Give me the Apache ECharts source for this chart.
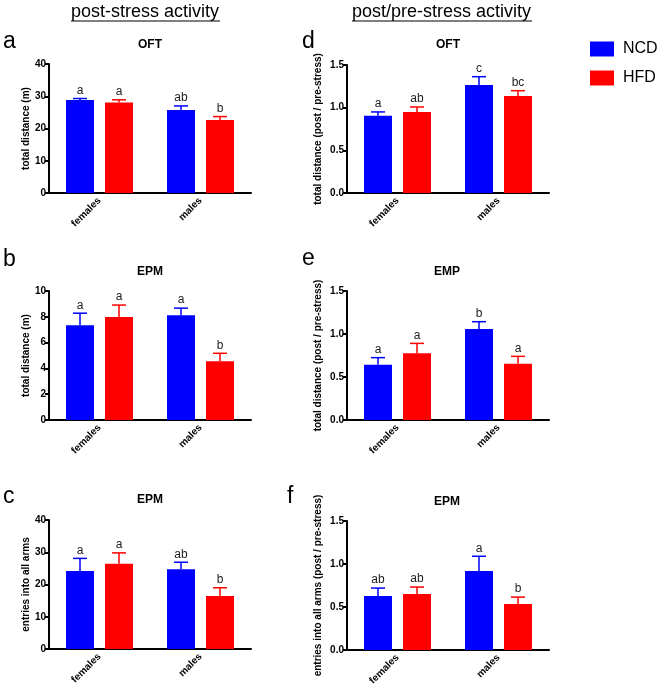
<!DOCTYPE html>
<html>
<head>
<meta charset="utf-8">
<script src="https://cdn.jsdelivr.net/npm/echarts@6/dist/echarts.min.js"></script>
<style>html,body{margin:0;padding:0;background:#fff}#c{width:660px;height:689px}</style>
</head>
<body>
<div id="c"></div>
<script>
const categories = ['females', 'males'];
const seriesNames = ['NCD', 'HFD'];

// panel a: OFT post-stress total distance (m)
const aNCD = [28.8, 25.7], aNCDerr = [0.5, 1.3], aNCDlet = ['a', 'ab'];
const aHFD = [28.1, 22.6], aHFDerr = [0.8, 1.1], aHFDlet = ['a', 'b'];
// panel b: EPM post-stress total distance (m)
const bNCD = [7.35, 8.12], bNCDerr = [0.93, 0.55], bNCDlet = ['a', 'a'];
const bHFD = [7.98, 4.55], bHFDerr = [0.93, 0.62], bHFDlet = ['a', 'b'];
// panel c: EPM post-stress entries into all arms
const cNCD = [24.2, 24.7], cNCDerr = [3.9, 2.2], cNCDlet = ['a', 'ab'];
const cHFD = [26.4, 16.4], cHFDerr = [3.4, 2.6], cHFDlet = ['a', 'b'];
// panel d: OFT post/pre total distance
const dNCD = [0.905, 1.265], dNCDerr = [0.045, 0.098], dNCDlet = ['a', 'c'];
const dHFD = [0.948, 1.136], dHFDerr = [0.06, 0.063], dHFDlet = ['ab', 'bc'];
// panel e: EMP post/pre total distance
const eNCD = [0.643, 1.058], eNCDerr = [0.082, 0.085], eNCDlet = ['a', 'b'];
const eHFD = [0.775, 0.655], eHFDerr = [0.116, 0.085], eHFDlet = ['a', 'a'];
// panel f: EPM post/pre entries into all arms
const fNCD = [0.627, 0.919], fNCDerr = [0.093, 0.171], fNCDlet = ['ab', 'a'];
const fHFD = [0.65, 0.534], fHFDerr = [0.082, 0.081], fHFDlet = ['ab', 'b'];

const ticksAC = [0, 10, 20, 30, 40];
const ticksB = [0, 2, 4, 6, 8, 10];
const ticksDEF = ['0.0', '0.5', '1.0', '1.5'];

const panelTitles = ['OFT', 'EPM', 'EPM', 'OFT', 'EMP', 'EPM'];
const panelLetters = ['a', 'b', 'c', 'd', 'e', 'f'];
const yNames = ['total distance (m)', 'total distance (m)', 'entries into all arms',
  'total distance (post / pre-stress)', 'total distance (post / pre-stress)',
  'entries into all arms (post / pre-stress)'];
const sectionTitles = ['post-stress activity', 'post/pre-stress activity'];

const FONT = '"Liberation Sans", Arial, Helvetica, sans-serif';
const BLUE = '#0000ff', RED = '#ff0000';

const panels = [
  {ncd: aNCD, ne: aNCDerr, nl: aNCDlet, hfd: aHFD, he: aHFDerr, hl: aHFDlet, max: ticksAC[ticksAC.length-1], interval: ticksAC[1]-ticksAC[0], dec: 0},
  {ncd: bNCD, ne: bNCDerr, nl: bNCDlet, hfd: bHFD, he: bHFDerr, hl: bHFDlet, max: ticksB[ticksB.length-1], interval: ticksB[1]-ticksB[0], dec: 0},
  {ncd: cNCD, ne: cNCDerr, nl: cNCDlet, hfd: cHFD, he: cHFDerr, hl: cHFDlet, max: ticksAC[ticksAC.length-1], interval: ticksAC[1]-ticksAC[0], dec: 0},
  {ncd: dNCD, ne: dNCDerr, nl: dNCDlet, hfd: dHFD, he: dHFDerr, hl: dHFDlet, max: +ticksDEF[3], interval: +ticksDEF[1], dec: 1},
  {ncd: eNCD, ne: eNCDerr, nl: eNCDlet, hfd: eHFD, he: eHFDerr, hl: eHFDlet, max: +ticksDEF[3], interval: +ticksDEF[1], dec: 1},
  {ncd: fNCD, ne: fNCDerr, nl: fNCDlet, hfd: fHFD, he: fHFDerr, hl: fHFDlet, max: +ticksDEF[3], interval: +ticksDEF[1], dec: 1}
];

const grids = [
  {left: 49, top: 64, width: 202, height: 129},
  {left: 49, top: 291, width: 202, height: 129},
  {left: 49, top: 520, width: 202, height: 129},
  {left: 347, top: 65, width: 202, height: 128},
  {left: 347, top: 291, width: 202, height: 129},
  {left: 347, top: 521, width: 202, height: 129}
];

const BAR_W = 28, BAR_GAP = 11;
const OFF = (BAR_W + BAR_GAP) / 2;

function errSeries(gi, vals, errs, lets, color, off) {
  return {
    type: 'custom', xAxisIndex: gi, yAxisIndex: gi, z: 5,
    data: vals.map((v, i) => [i, v, errs[i]]),
    renderItem: function (params, api) {
      const p0 = api.coord([api.value(0), api.value(1)]);
      const p1 = api.coord([api.value(0), api.value(1) + api.value(2)]);
      const cx = p0[0] + off;
      return {
        type: 'group',
        children: [
          {type: 'line', shape: {x1: cx, y1: p0[1], x2: cx, y2: p1[1]}, style: {stroke: color, lineWidth: 1.5}},
          {type: 'line', shape: {x1: cx - 7, y1: p1[1], x2: cx + 7, y2: p1[1]}, style: {stroke: color, lineWidth: 1.5}},
          {type: 'text', x: cx, y: p1[1] - 2, style: {text: lets[params.dataIndex], fill: '#222', font: '12px ' + FONT, textAlign: 'center', textVerticalAlign: 'bottom'}}
        ]
      };
    }
  };
}

const xAxes = [], yAxes = [], series = [];
panels.forEach((p, gi) => {
  xAxes.push({
    type: 'category', gridIndex: gi, data: categories,
    axisLine: {lineStyle: {color: '#000', width: 2}},
    axisTick: {alignWithLabel: true, length: 4, lineStyle: {color: '#000', width: 2}},
    axisLabel: {rotate: 45, color: '#000', fontFamily: FONT, fontWeight: 'bold', fontSize: 10, margin: 6}
  });
  yAxes.push({
    type: 'value', gridIndex: gi, min: 0, max: p.max, interval: p.interval,
    axisLine: {show: true, lineStyle: {color: '#000', width: 2}},
    axisTick: {show: true, length: 4, lineStyle: {color: '#000', width: 2}},
    splitLine: {show: false},
    axisLabel: {color: '#000', fontFamily: FONT, fontWeight: 'bold', fontSize: 10, margin: 3,
      formatter: v => v.toFixed(p.dec)}
  });
  series.push({type: 'bar', name: seriesNames[0], xAxisIndex: gi, yAxisIndex: gi, data: p.ncd,
    barWidth: BAR_W, barGap: (BAR_GAP / BAR_W * 100) + '%', itemStyle: {color: BLUE}});
  series.push({type: 'bar', name: seriesNames[1], xAxisIndex: gi, yAxisIndex: gi, data: p.hfd,
    barWidth: BAR_W, barGap: (BAR_GAP / BAR_W * 100) + '%', itemStyle: {color: RED}});
  series.push(errSeries(gi, p.ncd, p.ne, p.nl, BLUE, -OFF));
  series.push(errSeries(gi, p.hfd, p.he, p.hl, RED, OFF));
});

// text decorations
const letterPos = [[3, 48], [3, 266], [3, 503], [302, 48], [302, 265], [287, 503]];
const titlePos = [[150, 48], [150, 275], [150, 503], [448, 48], [447, 275], [447, 505]];
const graphic = [];
panelLetters.forEach((l, i) => {
  graphic.push({type: 'text', x: letterPos[i][0], y: letterPos[i][1] + 5,
    style: {text: l, font: '23px ' + FONT, fill: '#000', textAlign: 'left', textVerticalAlign: 'bottom'}});
});
panelTitles.forEach((t, i) => {
  graphic.push({type: 'text', x: titlePos[i][0], y: titlePos[i][1] + 3,
    style: {text: t, font: 'bold 12px ' + FONT, fill: '#000', textAlign: 'center', textVerticalAlign: 'bottom'}});
});
// y-axis titles, rotated, centred beside each axis
yNames.forEach((t, i) => {
  const g = grids[i];
  graphic.push({type: 'text', x: g.left - (i < 3 ? 23 : 29), y: g.top + g.height / 2, rotation: Math.PI / 2,
    style: {text: t, font: 'bold 10px ' + FONT, fill: '#000', textAlign: 'center', textVerticalAlign: 'middle'}});
});
const secPos = [[71, 220], [352, 532]];
sectionTitles.forEach((t, i) => {
  graphic.push({type: 'text', x: secPos[i][0], y: 21,
    style: {text: t, font: '18px ' + FONT, fill: '#000', textAlign: 'left', textVerticalAlign: 'bottom'}});
  graphic.push({type: 'line', shape: {x1: secPos[i][0], y1: 21, x2: secPos[i][1], y2: 21},
    style: {stroke: '#000', lineWidth: 1}});
});

const chart = echarts.init(document.getElementById('c'), null, {renderer: 'canvas'});
chart.setOption({
  animation: false,
  backgroundColor: '#fff',
  textStyle: {fontFamily: FONT},
  legend: {
    data: seriesNames, orient: 'vertical', left: 590, top: 41, padding: 0,
    icon: 'rect', itemWidth: 24, itemHeight: 15, itemGap: 13,
    textStyle: {fontSize: 16, color: '#000', fontFamily: FONT, padding: [0, 0, 0, 4]}
  },
  grid: grids,
  xAxis: xAxes,
  yAxis: yAxes,
  series: series,
  graphic: graphic
});
</script>
</body>
</html>
